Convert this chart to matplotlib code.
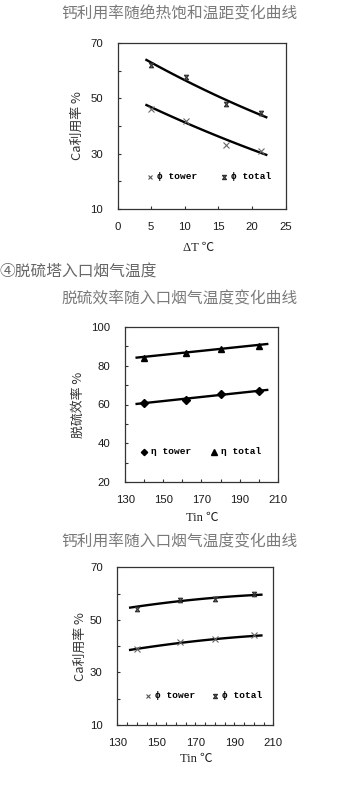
import matplotlib
matplotlib.use("Agg")
import matplotlib.pyplot as plt
from matplotlib.path import Path
import numpy as np

# ---------------- data ----------------
# Chart 1: Ca utilisation vs ΔT
dt_x = [5.0, 10.2, 16.2, 21.3]
dt_tower = [46.1, 41.9, 33.2, 30.8]
dt_total = [62.2, 57.8, 47.8, 44.8]
dt_fit_x = [4.15, 10.2, 16.2, 22.3]
dt_fit_tower = [47.6, 41.6, 34.6, 29.6]
dt_fit_total = [64.0, 56.6, 49.1, 43.1]

# Chart 2: desulfurisation efficiency vs inlet temperature
eta_x = [140.0, 162.0, 180.0, 200.0]
eta_tower = [60.6, 62.5, 65.2, 67.1]
eta_total = [84.1, 86.6, 88.4, 90.2]
eta_fit_x = [136.0, 204.5]
eta_fit_tower = [60.3, 67.5]
eta_fit_total = [84.1, 91.1]

# Chart 3: Ca utilisation vs inlet temperature
ca_x = [140.0, 162.0, 180.0, 200.0]
ca_tower = [38.9, 41.6, 42.7, 44.1]
ca_total = [54.3, 57.7, 57.8, 59.7]
ca_fit_x = [136.0, 163.0, 204.5]
ca_fit_tower = [38.5, 41.3, 44.1]
ca_fit_total = [54.6, 57.2, 59.6]

title1 = "钙利用率随绝热饱和温距变化曲线"
header = "④脱硫塔入口烟气温度"
title2 = "脱硫效率随入口烟气温度变化曲线"
title3 = "钙利用率随入口烟气温度变化曲线"

# ---------------- style ----------------
W, H = 361, 790
fig = plt.figure(figsize=(W / 100, H / 100), dpi=100)
CJK = ['Noto Sans CJK SC', 'DejaVu Sans']
NUM = 'Liberation Sans'
MONO = ['Liberation Mono', 'DejaVu Sans Mono']
SERIF = ['Liberation Serif', 'Noto Sans CJK SC', 'DejaVu Serif']

star = Path([(-1, -1), (1, 1), (-1, 1), (1, -1), (-1, 1), (1, 1), (-1, -1), (1, -1)],
            [Path.MOVETO, Path.LINETO, Path.MOVETO, Path.LINETO,
             Path.MOVETO, Path.LINETO, Path.MOVETO, Path.LINETO])


def trend(ax, xs, ys):
    """Smooth trendline through the read points (Excel-style polynomial trend)."""
    deg = min(2, len(xs) - 1)
    coef = np.polyfit(xs, ys, deg)
    xx = np.linspace(min(xs), max(xs), 60)
    ax.plot(xx, np.polyval(coef, xx), color='black', lw=1.7, solid_capstyle='butt')


def add_axes(left, top, right, bottom):
    return fig.add_axes([left / W, 1 - bottom / H, (right - left) / W, (bottom - top) / H])


def style(ax, xlim, xticks, xlabels, ylim, yticks, ylabels):
    ax.set_xlim(*xlim)
    ax.set_ylim(*ylim)
    ax.set_xticks(xticks)
    ax.set_xticklabels(xlabels, fontfamily=NUM, fontsize=8.2, color='#1a1a1a')
    ax.set_yticks(yticks)
    ax.set_yticklabels(ylabels, fontfamily=NUM, fontsize=8.2, color='#1a1a1a')
    ax.tick_params(direction='in', length=2.5, width=0.8, color='#333')
    ax.tick_params(axis='y', pad=10.5)
    ax.tick_params(axis='x', pad=9.5)
    for s in ax.spines.values():
        s.set_linewidth(0.9)
        s.set_color('#333')


def fig_text(x, y, s, **kw):
    fig.text(x / W, 1 - y / H, s, **kw)


# Titles
fig_text(180, 14, title1, ha='center', va='center', fontsize=11.3, color='#7a7a7a', family=CJK)
fig_text(0, 272, header, ha='left', va='center', fontsize=11.3, color='#666666', family=CJK)
fig_text(180, 299, title2, ha='center', va='center', fontsize=11.3, color='#7a7a7a', family=CJK)
fig_text(180, 542, title3, ha='center', va='center', fontsize=11.3, color='#7a7a7a', family=CJK)

# ---------------- chart 1 ----------------
ax1 = add_axes(117.5, 43, 285.5, 209)
style(ax1, (0, 25), [0, 5, 10, 15, 20, 25], ['0', '5', '10', '15', '20', '25'],
      (10, 70), [10, 20, 30, 40, 50, 60, 70], ['10', '', '30', '', '50', '', '70'])
trend(ax1, dt_fit_x, dt_fit_tower)
trend(ax1, dt_fit_x, dt_fit_total)
ax1.plot(dt_x, dt_tower, ls='none', marker='x', ms=4, mew=0.8, color='#666')
ax1.plot(dt_x, dt_total, ls='none', marker=star, ms=3.2, mew=0.9, color='#333')
ax1.plot([4.8], [21.7], ls='none', marker='x', ms=3.5, mew=0.8, color='#555')
ax1.text(5.9, 21.7, 'ϕ tower', va='center', ha='left', fontsize=6.8, fontweight='bold', family=MONO)
ax1.plot([15.9], [21.7], ls='none', marker=star, ms=3, mew=0.9, color='#333')
ax1.text(16.9, 21.7, 'ϕ total', va='center', ha='left', fontsize=6.8, fontweight='bold', family=MONO)
fig_text(77, 126, 'Ca利用率 %', rotation=90, ha='center', va='center', fontsize=9.3, color='#333', family=CJK)
fig_text(199, 248, 'ΔT ℃', ha='center', va='center', fontsize=9, color='#222', family=SERIF)

# ---------------- chart 2 ----------------
ax2 = add_axes(125.2, 326.7, 277.7, 482.3)
style(ax2, (130, 210), [130, 140, 150, 160, 170, 180, 190, 200, 210],
      ['130', '', '150', '', '170', '', '190', '', '210'],
      (20, 100), [20, 30, 40, 50, 60, 70, 80, 90, 100],
      ['20', '', '40', '', '60', '', '80', '', '100'])
ax2.plot(eta_fit_x, eta_fit_tower, color='black', lw=1.7)
ax2.plot(eta_fit_x, eta_fit_total, color='black', lw=1.7)
ax2.plot(eta_x, eta_tower, ls='none', marker='D', ms=3.6, color='black')
ax2.plot(eta_x, eta_total, ls='none', marker='^', ms=4.8, color='black')
ax2.plot([140.0], [35.7], ls='none', marker='D', ms=3.2, color='black')
ax2.text(143.5, 35.7, 'η tower', va='center', ha='left', fontsize=6.8, fontweight='bold', family=MONO)
ax2.plot([176.8], [35.7], ls='none', marker='^', ms=4.2, color='black')
ax2.text(180.5, 35.7, 'η total', va='center', ha='left', fontsize=6.8, fontweight='bold', family=MONO)
fig_text(78, 405, '脱硫效率 %', rotation=90, ha='center', va='center', fontsize=9.3, color='#333', family=CJK)
fig_text(202, 518, 'Tin ℃', ha='center', va='center', fontsize=9, color='#222', family=SERIF)

# ---------------- chart 3 ----------------
ax3 = add_axes(117.3, 567.3, 273.3, 725)
style(ax3, (130, 210), list(range(130, 211, 5)),
      ['130', '', '', '', '150', '', '', '', '170', '', '', '', '190', '', '', '', '210'],
      (10, 70), [10, 20, 30, 40, 50, 60, 70], ['10', '', '30', '', '50', '', '70'])
trend(ax3, ca_fit_x, ca_fit_tower)
trend(ax3, ca_fit_x, ca_fit_total)
ax3.plot(ca_x, ca_tower, ls='none', marker='x', ms=4, mew=0.8, color='#666')
ax3.plot(ca_x, ca_total, ls='none', marker=star, ms=3.2, mew=0.9, color='#333')
ax3.plot([145.9], [21.1], ls='none', marker='x', ms=3.5, mew=0.8, color='#555')
ax3.text(149.5, 21.1, 'ϕ tower', va='center', ha='left', fontsize=6.8, fontweight='bold', family=MONO)
ax3.plot([180.1], [21.1], ls='none', marker=star, ms=3, mew=0.9, color='#333')
ax3.text(183.5, 21.1, 'ϕ total', va='center', ha='left', fontsize=6.8, fontweight='bold', family=MONO)
fig_text(80, 647, 'Ca利用率 %', rotation=90, ha='center', va='center', fontsize=9.3, color='#333', family=CJK)
fig_text(196, 759, 'Tin ℃', ha='center', va='center', fontsize=9, color='#222', family=SERIF)

fig.savefig('out.png', dpi=100, facecolor='white')
